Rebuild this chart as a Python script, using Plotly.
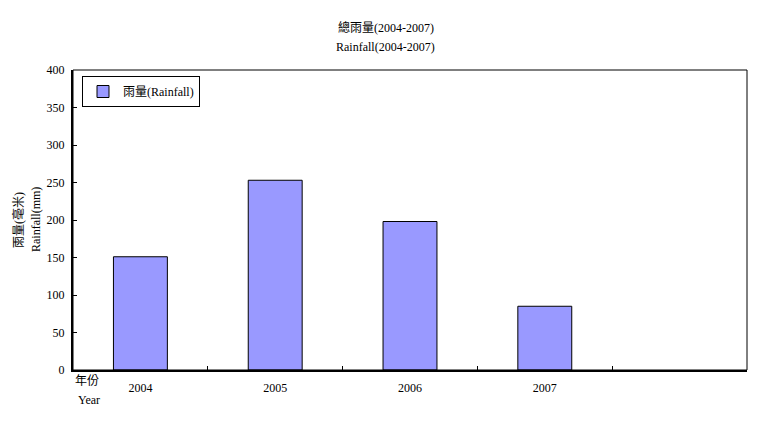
import plotly.graph_objects as go

years = ["2004", "2005", "2006", "2007"]
rainfall = [151, 253, 198, 85]
y_ticks = [0, 50, 100, 150, 200, 250, 300, 350, 400]

FONT = "Liberation Serif, Noto Sans CJK TC, serif"

L, R, T, B = 73, 24, 70, 73
PW, PH = 771 - L - R, 443 - T - B

def px(x):
    return (x - L) / PW

def py(y):
    return (443 - B - y) / PH

fig = go.Figure()
fig.add_trace(go.Bar(
    x=years, y=rainfall, name="雨量(Rainfall)",
    marker=dict(color="#9999FF", line=dict(color="black", width=1)),
    width=0.4,
))

fig.update_layout(
    width=771, height=443,
    margin=dict(l=L, r=R, t=T, b=B, autoexpand=False),
    paper_bgcolor="white", plot_bgcolor="white",
    font=dict(family=FONT, size=12, color="black"),
    showlegend=True,
    legend=dict(x=px(82), y=py(76), xanchor="left", yanchor="top",
                bordercolor="black", borderwidth=1, bgcolor="white",
                font=dict(size=12), itemwidth=30,
                tracegroupgap=0),
    xaxis=dict(type="category", range=[-0.5, 4.5], tickson="boundaries",
               ticks="inside", ticklen=4, tickcolor="black",
               showline=True, linecolor="black", linewidth=2,
               showgrid=False, zeroline=False, ticklabelstandoff=6,
               tickfont=dict(size=12)),
    yaxis=dict(range=[0, 400], tickvals=y_ticks, ticks="inside", ticklen=4,
               tickcolor="black", showline=True, linecolor="black", linewidth=2,
               showgrid=False, zeroline=False, tickfont=dict(size=12),
               ticklabelstandoff=4),
)

# frame around plot area (top & right)
fig.add_shape(type="rect", xref="paper", yref="paper", x0=0, x1=1, y0=0, y1=1,
              line=dict(color="black", width=1), layer="above")

def text(t, x, y, **kw):
    fig.add_annotation(text=t, xref="paper", yref="paper", x=px(x), y=py(y),
                       showarrow=False, font=dict(size=12), **kw)

text("總雨量(2004-2007)", 385.5, 27, xanchor="center", yanchor="middle")
text("Rainfall(2004-2007)", 385.5, 47, xanchor="center", yanchor="middle")
text("雨量(毫米)", 18, 220, textangle=-90, xanchor="center", yanchor="middle")
text("Rainfall(mm)", 36, 220, textangle=-90, xanchor="center", yanchor="middle")
text("年份", 73, 381, xanchor="left", yanchor="middle")
text("Year", 76, 400, xanchor="left", yanchor="middle")

fig.write_html("out.html", config={"displayModeBar": False},
               post_script="document.body.style.margin='0';document.body.style.overflow='hidden';")
